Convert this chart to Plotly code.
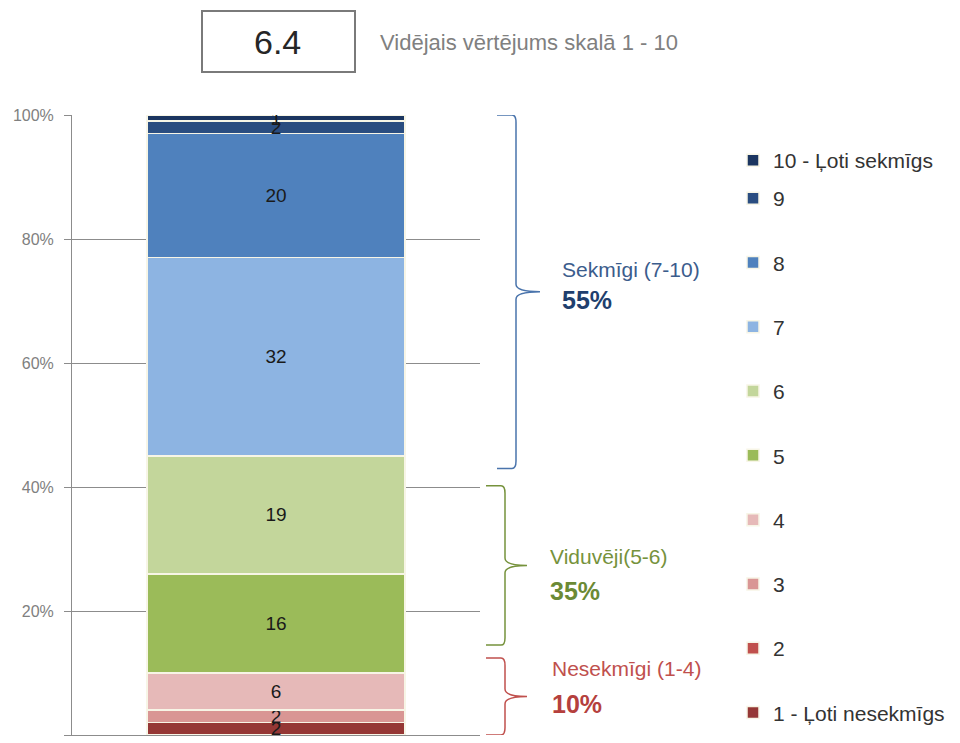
import plotly.graph_objects as go

# ---------------- data ----------------
grades = ["1 - Ļoti nesekmīgs", "2", "3", "4", "5", "6", "7", "8", "9", "10 - Ļoti sekmīgs"]
values = [2, 0, 2, 6, 16, 19, 32, 20, 2, 1]
colors = ["#953735", "#C0504D", "#D99694", "#E6B9B8", "#9BBB59",
          "#C3D69B", "#8DB4E2", "#4F81BD", "#2A4D80", "#1B3560"]
category = ["Vērtējums"]
avg_score = "6.4"
avg_label = "Vidējais vērtējums skalā 1 - 10"
group_names = ["Sekmīgi (7-10)", "Viduvēji(5-6)", "Nesekmīgi (1-4)"]
group_pcts = ["55%", "35%", "10%"]
group_colors = ["#4A74AC", "#76923C", "#C0504D"]
group_text_colors = ["#3B5C8C", "#76923C", "#C0504D"]
pct_colors = ["#1F3F6E", "#6B8A35", "#B5403D"]
# bracket extents (y, percent) for decoration
bracket_lo = [43, 14.5, 0]
bracket_hi = [100, 40.2, 12.4]
tick_vals = [0, 20, 40, 60, 80, 100]
tick_text = [f"{v}%" for v in tick_vals]

W, H = 960, 743
ML, MR, MT, MB = 72, 480, 115, 8
PW = W - ML - MR
PH = H - MT - MB
FONT = "Liberation Sans, Arial, sans-serif"


def px2paper_x(px):
    return (px - ML) / PW


def px2paper_y(py):
    return (H - MB - py) / PH


fig = go.Figure()
n = len(grades)
for i, (g, v, c) in enumerate(zip(grades, values, colors)):
    fig.add_trace(go.Bar(
        x=category, y=[v], name=g,
        marker=dict(color=c, line=dict(color="#F7F5E6", width=1.5)),
        text=[str(v) if v > 0 else ""], textposition="inside",
        insidetextanchor="middle", textangle=0, constraintext="none",
        textfont=dict(family=FONT, size=19, color="#1a1a1a"),
        width=0.632, legendgroup=g, legendrank=100 - i, hoverinfo="name+y",
        legend="legend" if i == n - 1 else "legend2",
    ))

shapes = []
annotations = []

# average box
shapes.append(dict(type="rect", xref="paper", yref="paper",
                   x0=px2paper_x(202), x1=px2paper_x(355),
                   y0=px2paper_y(72), y1=px2paper_y(11),
                   line=dict(color="#7a7a7a", width=2), fillcolor="white"))
annotations.append(dict(xref="paper", yref="paper", x=px2paper_x(277), y=px2paper_y(42),
                        xanchor="center", yanchor="middle",
                        text=avg_score, showarrow=False,
                        font=dict(family=FONT, size=34, color="#262626")))
annotations.append(dict(xref="paper", yref="paper", x=px2paper_x(378), y=px2paper_y(42),
                        xanchor="left", yanchor="middle", text=avg_label, showarrow=False,
                        font=dict(family=FONT, size=22, color="#808080")))

# brackets
bx = [(497, 516, 540), (486, 505, 527), (486, 505, 527)]
label_x = [560, 548, 550]
label_shift = [22, 9, 28]
pct_shift = [-8, -26, -7]
for i in range(3):
    x0, x2, x3 = [px2paper_x(p) for p in bx[i]]
    x1 = px2paper_x(bx[i][1] - 4)
    lo, hi = bracket_lo[i], bracket_hi[i]
    mid = (lo + hi) / 2
    d = 1.2
    path = (f"M {x0},{hi} L {x1},{hi} Q {x2},{hi} {x2},{hi-d} "
            f"L {x2},{mid+d} Q {x2},{mid} {x3},{mid} Q {x2},{mid} {x2},{mid-d} "
            f"L {x2},{lo+d} Q {x2},{lo} {x1},{lo} L {x0},{lo}")
    shapes.append(dict(type="path", xref="paper", yref="y", path=path,
                       line=dict(color=group_colors[i], width=1.5)))
    annotations.append(dict(xref="paper", yref="y", x=px2paper_x(label_x[i]), y=mid,
                            xanchor="left", yanchor="middle", yshift=label_shift[i],
                            text=group_names[i], showarrow=False,
                            font=dict(family=FONT, size=21, color=group_text_colors[i])))
    annotations.append(dict(xref="paper", yref="y", x=px2paper_x(label_x[i]), y=mid,
                            xanchor="left", yanchor="middle", yshift=pct_shift[i],
                            text=f"<b>{group_pcts[i]}</b>", showarrow=False,
                            font=dict(family=FONT, size=25, color=pct_colors[i])))

legend_font = dict(family=FONT, size=21, color="#333333")
fig.update_layout(
    width=W, height=H,
    margin=dict(l=ML, r=MR, t=MT, b=MB, autoexpand=False),
    barmode="stack",
    plot_bgcolor="white", paper_bgcolor="white",
    showlegend=True,
    legend=dict(x=px2paper_x(733), xanchor="left",
                y=px2paper_y(140), yanchor="top",
                font=legend_font, itemwidth=30, bgcolor="rgba(0,0,0,0)"),
    legend2=dict(traceorder="grouped", tracegroupgap=34,
                 x=px2paper_x(733), xanchor="left",
                 y=px2paper_y(178), yanchor="top",
                 font=legend_font, itemwidth=30, bgcolor="rgba(0,0,0,0)", maxheight=720),
    shapes=shapes, annotations=annotations,
    xaxis=dict(range=[-0.5, 0.5], showticklabels=False, showgrid=False,
               showline=True, linecolor="#8c8c8c", linewidth=1, zeroline=False),
    yaxis=dict(range=[0, 100], tickvals=tick_vals, ticktext=tick_text,
               showgrid=True, gridcolor="#8c8c8c", gridwidth=1,
               showline=True, linecolor="#8c8c8c", linewidth=1,
               ticks="outside", ticklen=7, tickcolor="#8c8c8c",
               ticklabelstandoff=7, zeroline=False,
               tickfont=dict(family=FONT, size=16, color="#808080")),
)

fig.write_html("out.html", config={"displayModeBar": False},
               post_script="document.body.style.margin='0';document.body.style.padding='0';")
